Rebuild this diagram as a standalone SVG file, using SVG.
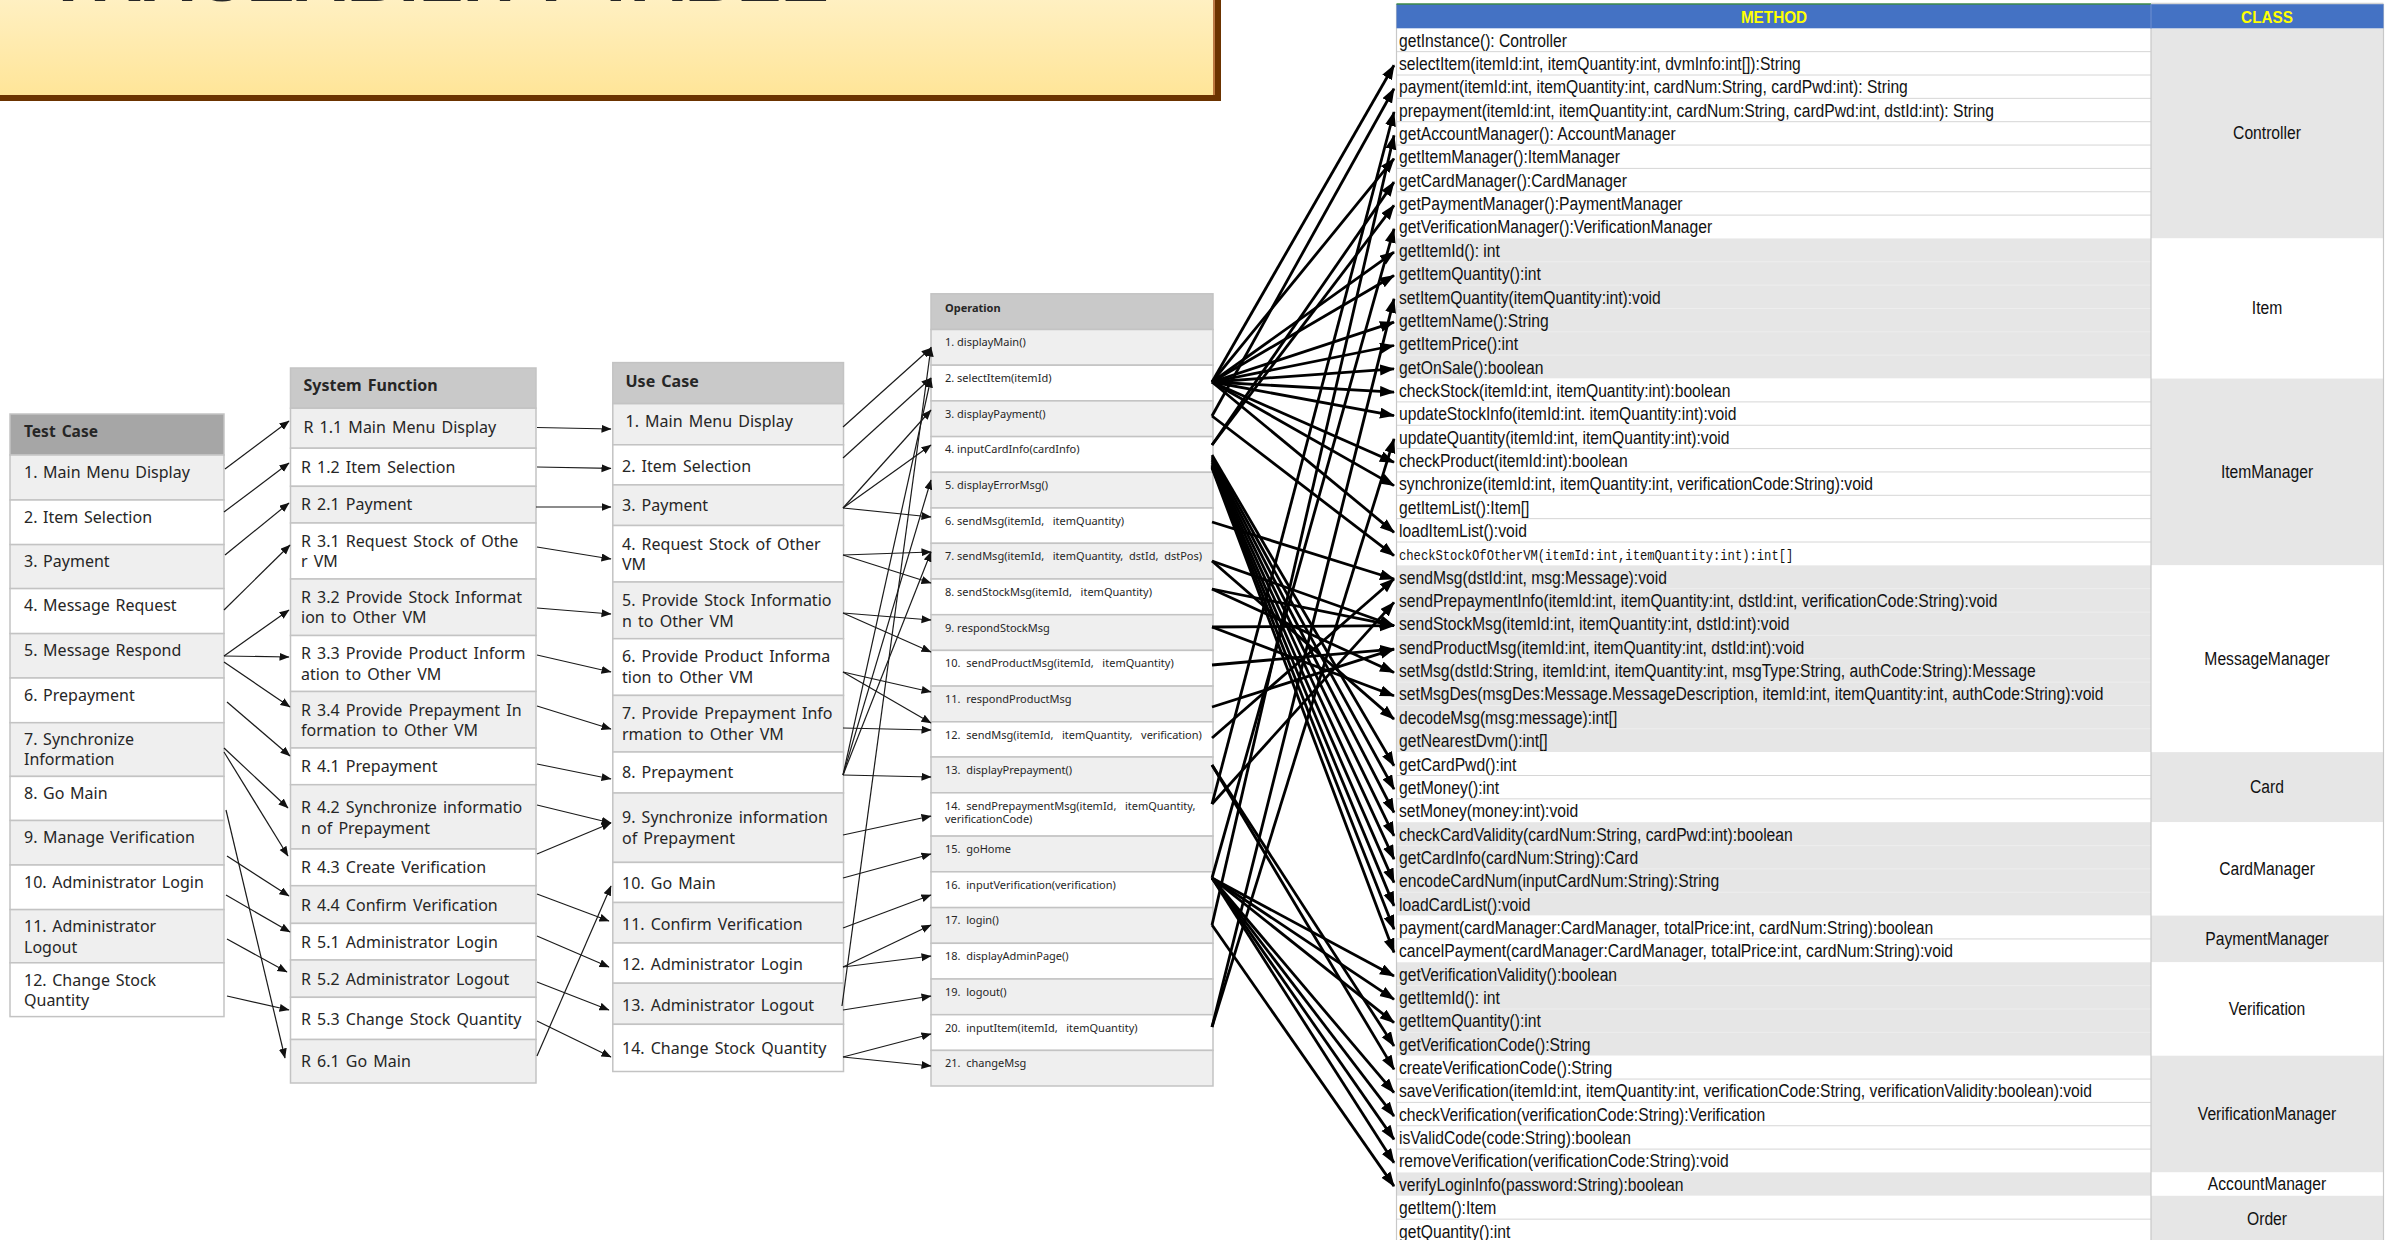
<svg xmlns="http://www.w3.org/2000/svg" width="2395" height="1240" viewBox="0 0 2395 1240">
<style>
.bd{stroke:#c3c3c3;stroke-width:1.5}
.hd1{fill:#a6a6a6}.hd{fill:#c9c9c9}.lt{fill:#efefef}.wt{fill:#ffffff}
.t15{font-family:"Noto Sans","Noto Sans CJK KR",sans-serif;font-size:16px;word-spacing:1.5px;fill:#262626}
.t16{font-family:"Noto Sans","Noto Sans CJK KR",sans-serif;font-size:16px;word-spacing:2px;fill:#262626}
.b15{font-family:"Noto Sans","Noto Sans CJK KR",sans-serif;font-size:15.5px;font-weight:bold;word-spacing:2px;fill:#262626}
.b16{font-family:"Noto Sans","Noto Sans CJK KR",sans-serif;font-size:16px;font-weight:bold;word-spacing:2px;fill:#262626}
.op{font-family:"Noto Sans","Noto Sans CJK KR",sans-serif;font-size:11px;fill:#262626;white-space:pre}
.opb{font-family:"Noto Sans","Noto Sans CJK KR",sans-serif;font-size:11px;font-weight:bold;fill:#262626}
.m{font-family:"Liberation Sans",Arial,sans-serif;font-size:18px;fill:#111}
.mono{font-family:"Liberation Mono","Courier New",monospace;font-size:14px;fill:#111}
.hy{font-family:"Liberation Sans",Arial,sans-serif;font-size:17px;font-weight:bold;fill:#ffff00}
.c1{fill:none;stroke:#1a1a1a;stroke-width:1.2;marker-end:url(#ah1)}
.c2{fill:none;stroke:#000;stroke-width:2.8;marker-end:url(#ah2)}
</style>
<defs>
<linearGradient id="tg" x1="0" y1="0" x2="0" y2="1"><stop offset="0" stop-color="#fff1c6"/><stop offset="1" stop-color="#ffe598"/></linearGradient>
<marker id="ah1" markerUnits="userSpaceOnUse" markerWidth="11" markerHeight="9" refX="9.5" refY="4" orient="auto"><path d="M0,0 L10,4 L0,8 z" fill="#111"/></marker>
<marker id="ah2" markerUnits="userSpaceOnUse" markerWidth="16" markerHeight="12" refX="14" refY="5.5" orient="auto"><path d="M0,0 L15,5.5 L0,11 z" fill="#000"/></marker>
</defs>
<rect x="0" y="0" width="2395" height="1240" fill="#ffffff"/>

<g id="title">
<rect x="-10" y="-10" width="1225" height="105" fill="url(#tg)"/>
<rect x="-10" y="95" width="1231" height="6" fill="#6b3300"/>
<rect x="1215" y="-10" width="6" height="111" fill="#6b3300"/>
<line x1="1214" y1="-10" x2="1214" y2="95" stroke="#a5521f" stroke-width="1.5"/>
<text x="46" y="1" font-family="Liberation Sans, Arial, sans-serif" font-size="72" font-weight="bold" fill="#262626" textLength="783" lengthAdjust="spacingAndGlyphs">TRACEABILITY TABLE</text>
</g>

<!-- Test Case table -->
<g id="tc-header"><rect class="hd1 bd" x="10" y="414" width="214" height="41"/><text class="b15" x="24" y="436.5">Test Case</text></g>
<g id="tc-1"><rect class="lt bd" x="10" y="455" width="214" height="45"/><text class="t15" x="24" y="478">1. Main Menu Display</text></g>
<g id="tc-2"><rect class="wt bd" x="10" y="500" width="214" height="44.6"/><text class="t15" x="24" y="522.5">2. Item Selection</text></g>
<g id="tc-3"><rect class="lt bd" x="10" y="544.6" width="214" height="44"/><text class="t15" x="24" y="567">3. Payment</text></g>
<g id="tc-4"><rect class="wt bd" x="10" y="588.6" width="214" height="45"/><text class="t15" x="24" y="611">4. Message Request</text></g>
<g id="tc-5"><rect class="lt bd" x="10" y="633.6" width="214" height="44.4"/><text class="t15" x="24" y="656">5. Message Respond</text></g>
<g id="tc-6"><rect class="wt bd" x="10" y="678" width="214" height="44.7"/><text class="t15" x="24" y="700.5">6. Prepayment</text></g>
<g id="tc-7"><rect class="lt bd" x="10" y="722.7" width="214" height="53.7"/><text class="t15" x="24" y="744.5">7. Synchronize</text><text class="t15" x="24" y="765">Information</text></g>
<g id="tc-8"><rect class="wt bd" x="10" y="776.4" width="214" height="44.1"/><text class="t15" x="24" y="799">8. Go Main</text></g>
<g id="tc-9"><rect class="lt bd" x="10" y="820.5" width="214" height="44.5"/><text class="t15" x="24" y="843">9. Manage Verification</text></g>
<g id="tc-10"><rect class="wt bd" x="10" y="865" width="214" height="44.6"/><text class="t15" x="24" y="887.5">10. Administrator Login</text></g>
<g id="tc-11"><rect class="lt bd" x="10" y="909.6" width="214" height="53.2"/><text class="t15" x="24" y="932">11. Administrator</text><text class="t15" x="24" y="952.5">Logout</text></g>
<g id="tc-12"><rect class="wt bd" x="10" y="962.8" width="214" height="53.8"/><text class="t15" x="24" y="985.5">12. Change Stock</text><text class="t15" x="24" y="1006">Quantity</text></g>

<!-- System Function table -->
<g id="sf-header"><rect class="hd bd" x="290.5" y="368" width="245.5" height="40.2"/><text class="b16" x="303.5" y="391">System Function</text></g>
<g id="sf-r11"><rect class="lt bd" x="290.5" y="408.2" width="245.5" height="40"/><text class="t16" x="303.5" y="433">R 1.1 Main Menu Display</text></g>
<g id="sf-r12"><rect class="wt bd" x="290.5" y="448.2" width="245.5" height="38.1"/><text class="t16" x="301" y="473">R 1.2 Item Selection</text></g>
<g id="sf-r21"><rect class="lt bd" x="290.5" y="486.3" width="245.5" height="36.7"/><text class="t16" x="301" y="510">R 2.1 Payment</text></g>
<g id="sf-r31"><rect class="wt bd" x="290.5" y="523" width="245.5" height="56"/><text class="t16" x="301" y="546.5">R 3.1 Request Stock of Othe</text><text class="t16" x="301" y="567">r VM</text></g>
<g id="sf-r32"><rect class="lt bd" x="290.5" y="579" width="245.5" height="56.5"/><text class="t16" x="301" y="602.5">R 3.2 Provide Stock Informat</text><text class="t16" x="301" y="623">ion to Other VM</text></g>
<g id="sf-r33"><rect class="wt bd" x="290.5" y="635.5" width="245.5" height="56"/><text class="t16" x="301" y="659">R 3.3 Provide Product Inform</text><text class="t16" x="301" y="679.5">ation to Other VM</text></g>
<g id="sf-r34"><rect class="lt bd" x="290.5" y="691.5" width="245.5" height="56.5"/><text class="t16" x="301" y="715.5">R 3.4 Provide Prepayment In</text><text class="t16" x="301" y="736">formation to Other VM</text></g>
<g id="sf-r41"><rect class="wt bd" x="290.5" y="748" width="245.5" height="36.7"/><text class="t16" x="301" y="772">R 4.1 Prepayment</text></g>
<g id="sf-r42"><rect class="lt bd" x="290.5" y="784.7" width="245.5" height="64.3"/><text class="t16" x="301" y="813">R 4.2 Synchronize informatio</text><text class="t16" x="301" y="833.5">n of Prepayment</text></g>
<g id="sf-r43"><rect class="wt bd" x="290.5" y="849" width="245.5" height="36.7"/><text class="t16" x="301" y="873">R 4.3 Create Verification</text></g>
<g id="sf-r44"><rect class="lt bd" x="290.5" y="885.7" width="245.5" height="37.7"/><text class="t16" x="301" y="910.5">R 4.4 Confirm Verification</text></g>
<g id="sf-r51"><rect class="wt bd" x="290.5" y="923.4" width="245.5" height="36.6"/><text class="t16" x="301" y="947.7">R 5.1 Administrator Login</text></g>
<g id="sf-r52"><rect class="lt bd" x="290.5" y="960" width="245.5" height="37.3"/><text class="t16" x="301" y="985.3">R 5.2 Administrator Logout</text></g>
<g id="sf-r53"><rect class="wt bd" x="290.5" y="997.3" width="245.5" height="42.2"/><text class="t16" x="301" y="1025.3">R 5.3 Change Stock Quantity</text></g>
<g id="sf-r61"><rect class="lt bd" x="290.5" y="1039.5" width="245.5" height="43.5"/><text class="t16" x="301" y="1067">R 6.1 Go Main</text></g>

<!-- Use Case table -->
<g id="uc-header"><rect class="hd bd" x="612.8" y="362.6" width="230.7" height="41.1"/><text class="b16" x="625.5" y="387">Use Case</text></g>
<g id="uc-1"><rect class="lt bd" x="612.8" y="403.7" width="230.7" height="41.1"/><text class="t16" x="625.5" y="427">1. Main Menu Display</text></g>
<g id="uc-2"><rect class="wt bd" x="612.8" y="444.8" width="230.7" height="40.1"/><text class="t16" x="622" y="471.5">2. Item Selection</text></g>
<g id="uc-3"><rect class="lt bd" x="612.8" y="484.9" width="230.7" height="40.6"/><text class="t16" x="622" y="511">3. Payment</text></g>
<g id="uc-4"><rect class="wt bd" x="612.8" y="525.5" width="230.7" height="56.5"/><text class="t16" x="622" y="549.5">4. Request Stock of Other</text><text class="t16" x="622" y="570">VM</text></g>
<g id="uc-5"><rect class="lt bd" x="612.8" y="582" width="230.7" height="56.7"/><text class="t16" x="622" y="606">5. Provide Stock Informatio</text><text class="t16" x="622" y="626.8">n to Other VM</text></g>
<g id="uc-6"><rect class="wt bd" x="612.8" y="638.7" width="230.7" height="56.7"/><text class="t16" x="622" y="662">6. Provide Product Informa</text><text class="t16" x="622" y="683">tion to Other VM</text></g>
<g id="uc-7"><rect class="lt bd" x="612.8" y="695.4" width="230.7" height="56.6"/><text class="t16" x="622" y="718.8">7. Provide Prepayment Info</text><text class="t16" x="622" y="739.5">rmation to Other VM</text></g>
<g id="uc-8"><rect class="wt bd" x="612.8" y="752" width="230.7" height="41"/><text class="t16" x="622" y="778.3">8. Prepayment</text></g>
<g id="uc-9"><rect class="lt bd" x="612.8" y="793" width="230.7" height="69.4"/><text class="t16" x="622" y="823">9. Synchronize information</text><text class="t16" x="622" y="844">of Prepayment</text></g>
<g id="uc-10"><rect class="wt bd" x="612.8" y="862.4" width="230.7" height="40.1"/><text class="t16" x="622" y="888.7">10. Go Main</text></g>
<g id="uc-11"><rect class="lt bd" x="612.8" y="902.5" width="230.7" height="40.5"/><text class="t16" x="622" y="929.7">11. Confirm Verification</text></g>
<g id="uc-12"><rect class="wt bd" x="612.8" y="943" width="230.7" height="40.2"/><text class="t16" x="622" y="969.8">12. Administrator Login</text></g>
<g id="uc-13"><rect class="lt bd" x="612.8" y="983.2" width="230.7" height="41.1"/><text class="t16" x="622" y="1010.9">13. Administrator Logout</text></g>
<g id="uc-14"><rect class="wt bd" x="612.8" y="1024.3" width="230.7" height="47.2"/><text class="t16" x="622" y="1054.3">14. Change Stock Quantity</text></g>

<!-- Operation table -->
<g id="op-header"><rect class="hd bd" x="931" y="293.8" width="282" height="35.7"/><text class="opb" x="945" y="311.5">Operation</text></g>
<g id="op-1"><rect class="lt bd" x="931" y="329.5" width="282" height="35.7"/><text class="op" x="945" y="346.3">1. displayMain()</text></g>
<g id="op-2"><rect class="wt bd" x="931" y="365.2" width="282" height="35.7"/><text class="op" x="945" y="382">2. selectItem(itemId)</text></g>
<g id="op-3"><rect class="lt bd" x="931" y="400.9" width="282" height="35.7"/><text class="op" x="945" y="417.7">3. displayPayment()</text></g>
<g id="op-4"><rect class="wt bd" x="931" y="436.6" width="282" height="35.7"/><text class="op" x="945" y="453.4">4. inputCardInfo(cardInfo)</text></g>
<g id="op-5"><rect class="lt bd" x="931" y="472.3" width="282" height="35.7"/><text class="op" x="945" y="489.1">5. displayErrorMsg()</text></g>
<g id="op-6"><rect class="wt bd" x="931" y="508" width="282" height="35.3"/><text class="op" x="945" y="524.8" xml:space="preserve">6. sendMsg(itemId,   itemQuantity)</text></g>
<g id="op-7"><rect class="lt bd" x="931" y="543.3" width="282" height="35.7"/><text class="op" x="945" y="560.1" xml:space="preserve">7. sendMsg(itemId,   itemQuantity,  dstId,  dstPos)</text></g>
<g id="op-8"><rect class="wt bd" x="931" y="579" width="282" height="35.7"/><text class="op" x="945" y="595.8" xml:space="preserve">8. sendStockMsg(itemId,   itemQuantity)</text></g>
<g id="op-9"><rect class="lt bd" x="931" y="614.7" width="282" height="35.7"/><text class="op" x="945" y="631.5">9. respondStockMsg</text></g>
<g id="op-10"><rect class="wt bd" x="931" y="650.4" width="282" height="35.7"/><text class="op" x="945" y="667.2" xml:space="preserve">10.  sendProductMsg(itemId,   itemQuantity)</text></g>
<g id="op-11"><rect class="lt bd" x="931" y="686.1" width="282" height="35.7"/><text class="op" x="945" y="702.9" xml:space="preserve">11.  respondProductMsg</text></g>
<g id="op-12"><rect class="wt bd" x="931" y="721.8" width="282" height="35.2"/><text class="op" x="945" y="738.6" xml:space="preserve">12.  sendMsg(itemId,   itemQuantity,   verification)</text></g>
<g id="op-13"><rect class="lt bd" x="931" y="757" width="282" height="35.8"/><text class="op" x="945" y="773.8" xml:space="preserve">13.  displayPrepayment()</text></g>
<g id="op-14"><rect class="wt bd" x="931" y="792.8" width="282" height="43.3"/><text class="op" x="945" y="809.6" xml:space="preserve">14.  sendPrepaymentMsg(itemId,   itemQuantity,</text><text class="op" x="945" y="823.1">verificationCode)</text></g>
<g id="op-15"><rect class="lt bd" x="931" y="836.1" width="282" height="35.7"/><text class="op" x="945" y="852.9" xml:space="preserve">15.  goHome</text></g>
<g id="op-16"><rect class="wt bd" x="931" y="871.8" width="282" height="35.8"/><text class="op" x="945" y="888.6" xml:space="preserve">16.  inputVerification(verification)</text></g>
<g id="op-17"><rect class="lt bd" x="931" y="907.6" width="282" height="35.7"/><text class="op" x="945" y="924.4" xml:space="preserve">17.  login()</text></g>
<g id="op-18"><rect class="wt bd" x="931" y="943.3" width="282" height="35.7"/><text class="op" x="945" y="960.1" xml:space="preserve">18.  displayAdminPage()</text></g>
<g id="op-19"><rect class="lt bd" x="931" y="979" width="282" height="35.7"/><text class="op" x="945" y="995.8" xml:space="preserve">19.  logout()</text></g>
<g id="op-20"><rect class="wt bd" x="931" y="1014.7" width="282" height="35.7"/><text class="op" x="945" y="1031.5" xml:space="preserve">20.  inputItem(itemId,   itemQuantity)</text></g>
<g id="op-21"><rect class="lt bd" x="931" y="1050.4" width="282" height="35.6"/><text class="op" x="945" y="1067.2" xml:space="preserve">21.  changeMsg</text></g>

<!-- Method / Class table -->
<g id="method-table">
<rect x="1396.5" y="28.3" width="754.5" height="210.15" fill="#ffffff"/>
<rect x="1396.5" y="238.45" width="754.5" height="140.1" fill="#e6e6e6"/>
<rect x="1396.5" y="378.55" width="754.5" height="186.8" fill="#ffffff"/>
<rect x="1396.5" y="565.35" width="754.5" height="186.8" fill="#e6e6e6"/>
<rect x="1396.5" y="752.15" width="754.5" height="70.05" fill="#ffffff"/>
<rect x="1396.5" y="822.2" width="754.5" height="93.4" fill="#e6e6e6"/>
<rect x="1396.5" y="915.6" width="754.5" height="46.7" fill="#ffffff"/>
<rect x="1396.5" y="962.3" width="754.5" height="93.4" fill="#e6e6e6"/>
<rect x="1396.5" y="1055.7" width="754.5" height="116.75" fill="#ffffff"/>
<rect x="1396.5" y="1172.45" width="754.5" height="23.35" fill="#e6e6e6"/>
<rect x="1396.5" y="1195.8" width="754.5" height="46.7" fill="#ffffff"/>
<rect x="2151" y="28.3" width="232.5" height="210.15" fill="#e6e6e6"/>
<rect x="2151" y="238.45" width="232.5" height="140.1" fill="#ffffff"/>
<rect x="2151" y="378.55" width="232.5" height="186.8" fill="#e6e6e6"/>
<rect x="2151" y="565.35" width="232.5" height="186.8" fill="#ffffff"/>
<rect x="2151" y="752.15" width="232.5" height="70.05" fill="#e6e6e6"/>
<rect x="2151" y="822.2" width="232.5" height="93.4" fill="#ffffff"/>
<rect x="2151" y="915.6" width="232.5" height="46.7" fill="#e6e6e6"/>
<rect x="2151" y="962.3" width="232.5" height="93.4" fill="#ffffff"/>
<rect x="2151" y="1055.7" width="232.5" height="116.75" fill="#e6e6e6"/>
<rect x="2151" y="1172.45" width="232.5" height="23.35" fill="#ffffff"/>
<rect x="2151" y="1195.8" width="232.5" height="46.7" fill="#e6e6e6"/>
<path d="M1397 51.65H2151M1397 75H2151M1397 98.35H2151M1397 121.7H2151M1397 145.05H2151M1397 168.4H2151M1397 191.75H2151M1397 215.1H2151M1397 401.9H2151M1397 425.25H2151M1397 448.6H2151M1397 471.95H2151M1397 495.3H2151M1397 518.65H2151M1397 542H2151M1397 775.5H2151M1397 798.85H2151M1397 938.95H2151M1397 1079.05H2151M1397 1102.4H2151M1397 1125.75H2151M1397 1149.1H2151M1397 1219.15H2151" stroke="#d6d6d6" stroke-width="1" fill="none"/>
<path d="M1397 261.8H2151M1397 285.15H2151M1397 308.5H2151M1397 331.85H2151M1397 355.2H2151M1397 588.7H2151M1397 612.05H2151M1397 635.4H2151M1397 658.75H2151M1397 682.1H2151M1397 705.45H2151M1397 728.8H2151M1397 845.55H2151M1397 868.9H2151M1397 892.25H2151M1397 985.65H2151M1397 1009H2151M1397 1032.35H2151" stroke="#eeeeee" stroke-width="1" fill="none"/>
<path d="M1396.5 4V1240M2151 28V1240M2383.5 4V1240" stroke="#c8c8c8" stroke-width="1.2" fill="none"/>
</g>
<g id="method-header">
<rect x="1396.5" y="4" width="754.5" height="24.3" fill="#4472c4"/>
<rect x="2151" y="4" width="232.5" height="24.3" fill="#4472c4"/>
<line x1="1396.5" y1="4" x2="2151" y2="4" stroke="#3c8a48" stroke-width="1.5"/>
<line x1="2151" y1="3.5" x2="2383.5" y2="3.5" stroke="#d4d4d4" stroke-width="1.5"/>
<line x1="2151" y1="4" x2="2151" y2="28.3" stroke="#6f8fd0" stroke-width="1"/>
<text class="hy" text-anchor="middle" transform="translate(1774,23.3) scale(0.9,1)" x="0" y="0">METHOD</text>
<text class="hy" text-anchor="middle" transform="translate(2267,23.3) scale(0.9,1)" x="0" y="0">CLASS</text>
</g>
<g id="methods" class="m" transform="translate(1399,0) scale(0.87,1)">
<text x="0" y="46.7">getInstance(): Controller</text>
<text x="0" y="70.05">selectItem(itemId:int, itemQuantity:int, dvmInfo:int[]):String</text>
<text x="0" y="93.4">payment(itemId:int, itemQuantity:int, cardNum:String, cardPwd:int): String</text>
<text x="0" y="116.75">prepayment(itemId:int, itemQuantity:int, cardNum:String, cardPwd:int, dstId:int): String</text>
<text x="0" y="140.1">getAccountManager(): AccountManager</text>
<text x="0" y="163.45">getItemManager():ItemManager</text>
<text x="0" y="186.8">getCardManager():CardManager</text>
<text x="0" y="210.15">getPaymentManager():PaymentManager</text>
<text x="0" y="233.5">getVerificationManager():VerificationManager</text>
<text x="0" y="256.85">getItemId(): int</text>
<text x="0" y="280.2">getItemQuantity():int</text>
<text x="0" y="303.55">setItemQuantity(itemQuantity:int):void</text>
<text x="0" y="326.9">getItemName():String</text>
<text x="0" y="350.25">getItemPrice():int</text>
<text x="0" y="373.6">getOnSale():boolean</text>
<text x="0" y="396.95">checkStock(itemId:int, itemQuantity:int):boolean</text>
<text x="0" y="420.3">updateStockInfo(itemId:int. itemQuantity:int):void</text>
<text x="0" y="443.65">updateQuantity(itemId:int, itemQuantity:int):void</text>
<text x="0" y="467">checkProduct(itemId:int):boolean</text>
<text x="0" y="490.35">synchronize(itemId:int, itemQuantity:int, verificationCode:String):void</text>
<text x="0" y="513.7">getItemList():Item[]</text>
<text x="0" y="537.05">loadItemList():void</text>
<text class="mono" x="0" y="560.4">checkStockOfOtherVM(itemId:int,itemQuantity:int):int[]</text>
<text x="0" y="583.75">sendMsg(dstId:int, msg:Message):void</text>
<text x="0" y="607.1">sendPrepaymentInfo(itemId:int, itemQuantity:int, dstId:int, verificationCode:String):void</text>
<text x="0" y="630.45">sendStockMsg(itemId:int, itemQuantity:int, dstId:int):void</text>
<text x="0" y="653.8">sendProductMsg(itemId:int, itemQuantity:int, dstId:int):void</text>
<text x="0" y="677.15">setMsg(dstId:String, itemId:int, itemQuantity:int, msgType:String, authCode:String):Message</text>
<text x="0" y="700.5">setMsgDes(msgDes:Message.MessageDescription, itemId:int, itemQuantity:int, authCode:String):void</text>
<text x="0" y="723.85">decodeMsg(msg:message):int[]</text>
<text x="0" y="747.2">getNearestDvm():int[]</text>
<text x="0" y="770.55">getCardPwd():int</text>
<text x="0" y="793.9">getMoney():int</text>
<text x="0" y="817.25">setMoney(money:int):void</text>
<text x="0" y="840.6">checkCardValidity(cardNum:String, cardPwd:int):boolean</text>
<text x="0" y="863.95">getCardInfo(cardNum:String):Card</text>
<text x="0" y="887.3">encodeCardNum(inputCardNum:String):String</text>
<text x="0" y="910.65">loadCardList():void</text>
<text x="0" y="934">payment(cardManager:CardManager, totalPrice:int, cardNum:String):boolean</text>
<text x="0" y="957.35">cancelPayment(cardManager:CardManager, totalPrice:int, cardNum:String):void</text>
<text x="0" y="980.7">getVerificationValidity():boolean</text>
<text x="0" y="1004.05">getItemId(): int</text>
<text x="0" y="1027.4">getItemQuantity():int</text>
<text x="0" y="1050.75">getVerificationCode():String</text>
<text x="0" y="1074.1">createVerificationCode():String</text>
<text x="0" y="1097.45">saveVerification(itemId:int, itemQuantity:int, verificationCode:String, verificationValidity:boolean):void</text>
<text x="0" y="1120.8">checkVerification(verificationCode:String):Verification</text>
<text x="0" y="1144.15">isValidCode(code:String):boolean</text>
<text x="0" y="1167.5">removeVerification(verificationCode:String):void</text>
<text x="0" y="1190.85">verifyLoginInfo(password:String):boolean</text>
<text x="0" y="1214.2">getItem():Item</text>
<text x="0" y="1237.55">getQuantity():int</text>
</g>
<g id="classes" class="m" text-anchor="middle" transform="translate(2267,0) scale(0.87,1)">
<text x="0" y="139.5">Controller</text>
<text x="0" y="314.5">Item</text>
<text x="0" y="478">ItemManager</text>
<text x="0" y="664.8">MessageManager</text>
<text x="0" y="793.2">Card</text>
<text x="0" y="875">CardManager</text>
<text x="0" y="945">PaymentManager</text>
<text x="0" y="1015">Verification</text>
<text x="0" y="1120">VerificationManager</text>
<text x="0" y="1190">AccountManager</text>
<text x="0" y="1225">Order</text>
</g>

<g id="connectors">
<g id="tc-sf">
<path class="c1" d="M225,469 L289,421"/>
<path class="c1" d="M224,512 L289,463"/>
<path class="c1" d="M225,555 L289,503"/>
<path class="c1" d="M224,610 L290,545"/>
<path class="c1" d="M224,656 L289,610"/>
<path class="c1" d="M224,656 L289,657"/>
<path class="c1" d="M224,662 L290,707"/>
<path class="c1" d="M227,702 L290,756"/>
<path class="c1" d="M224,748 L288,808"/>
<path class="c1" d="M224,752 L288,856"/>
<path class="c1" d="M226,810 L285,1058"/>
<path class="c1" d="M227,856 L289,896"/>
<path class="c1" d="M226,895 L290,932"/>
<path class="c1" d="M227,939 L287,972"/>
<path class="c1" d="M227,996 L289,1010"/>
</g>
<g id="sf-uc">
<path class="c1" d="M537,427.5 L611,429"/>
<path class="c1" d="M537,467 L611,468.4"/>
<path class="c1" d="M536,507 L611,507"/>
<path class="c1" d="M537,547 L611,559"/>
<path class="c1" d="M537,608 L611,614"/>
<path class="c1" d="M537,655 L611,672"/>
<path class="c1" d="M537,706 L611,729"/>
<path class="c1" d="M537,764 L611,779"/>
<path class="c1" d="M537,805 L611,823"/>
<path class="c1" d="M537,854 L611,823"/>
<path class="c1" d="M537,894 L609,921"/>
<path class="c1" d="M537,936 L609,967"/>
<path class="c1" d="M537,982 L609,1010"/>
<path class="c1" d="M537,1021 L611,1057"/>
<path class="c1" d="M537,1056 L611,886"/>
</g>
<g id="uc-op">
<path class="c1" d="M843,427 L931,348"/>
<path class="c1" d="M843,458 L931,378"/>
<path class="c1" d="M843,508 L931,410"/>
<path class="c1" d="M843,508 L931,445"/>
<path class="c1" d="M843,508 L931,517"/>
<path class="c1" d="M843,555 L931,552"/>
<path class="c1" d="M843,555 L931,583"/>
<path class="c1" d="M843,613 L931,620"/>
<path class="c1" d="M843,613 L931,652"/>
<path class="c1" d="M843,672 L931,692"/>
<path class="c1" d="M843,672 L931,723"/>
<path class="c1" d="M843,728 L931,730"/>
<path class="c1" d="M843,775 L931,378"/>
<path class="c1" d="M843,775 L931,480"/>
<path class="c1" d="M843,775 L931,552"/>
<path class="c1" d="M843,775 L931,777"/>
<path class="c1" d="M843,835 L931,816"/>
<path class="c1" d="M843,878 L931,854"/>
<path class="c1" d="M843,928 L931,895"/>
<path class="c1" d="M843,967 L931,925"/>
<path class="c1" d="M843,967 L931,956"/>
<path class="c1" d="M842,1006 L931,347"/>
<path class="c1" d="M843,1010 L931,996"/>
<path class="c1" d="M843,1057 L931,1034"/>
<path class="c1" d="M843,1057 L931,1066"/>
</g>
<g id="op-method">
<path class="c2" d="M1212,382 L1394,65.3"/>
<path class="c2" d="M1212,382 L1394,158.7"/>
<path class="c2" d="M1212,382 L1394,252.1"/>
<path class="c2" d="M1212,382 L1394,275.5"/>
<path class="c2" d="M1212,382 L1394,322.2"/>
<path class="c2" d="M1212,382 L1394,345.5"/>
<path class="c2" d="M1212,382 L1394,368.9"/>
<path class="c2" d="M1212,382 L1394,392.2"/>
<path class="c2" d="M1212,382 L1394,415.6"/>
<path class="c2" d="M1212,382 L1394,462.3"/>
<path class="c2" d="M1212,382 L1394,485.6"/>
<path class="c2" d="M1212,382 L1394,532.3"/>
<path class="c2" d="M1212,416 L1394,88.7"/>
<path class="c2" d="M1212,416 L1394,555.7"/>
<path class="c2" d="M1212,445 L1394,182.1"/>
<path class="c2" d="M1212,445 L1394,205.4"/>
<path class="c2" d="M1212,455 L1394,765.8"/>
<path class="c2" d="M1212,457 L1394,789.2"/>
<path class="c2" d="M1212,459 L1394,812.5"/>
<path class="c2" d="M1212,461 L1394,835.9"/>
<path class="c2" d="M1212,463 L1394,859.2"/>
<path class="c2" d="M1212,465 L1394,882.6"/>
<path class="c2" d="M1212,466 L1394,905.9"/>
<path class="c2" d="M1212,467 L1394,929.3"/>
<path class="c2" d="M1212,468 L1394,952.6"/>
<path class="c2" d="M1212,522 L1394,579"/>
<path class="c2" d="M1212,561 L1394,625.7"/>
<path class="c2" d="M1212,561 L1394,719.1"/>
<path class="c2" d="M1212,589 L1394,625.7"/>
<path class="c2" d="M1212,589 L1394,672.4"/>
<path class="c2" d="M1212,627 L1394,625.7"/>
<path class="c2" d="M1212,627 L1394,695.8"/>
<path class="c2" d="M1212,665 L1394,649.1"/>
<path class="c2" d="M1212,707 L1394,649.1"/>
<path class="c2" d="M1212,738 L1394,579"/>
<path class="c2" d="M1212,765 L1394,1046"/>
<path class="c2" d="M1212,765 L1394,1069.4"/>
<path class="c2" d="M1212,804 L1394,112"/>
<path class="c2" d="M1212,804 L1394,602.4"/>
<path class="c2" d="M1212,878 L1394,228.8"/>
<path class="c2" d="M1212,878 L1394,976"/>
<path class="c2" d="M1212,878 L1394,999.3"/>
<path class="c2" d="M1212,878 L1394,1022.7"/>
<path class="c2" d="M1212,878 L1394,1092.7"/>
<path class="c2" d="M1212,878 L1394,1116.1"/>
<path class="c2" d="M1212,878 L1394,1139.4"/>
<path class="c2" d="M1212,878 L1394,1162.8"/>
<path class="c2" d="M1212,925 L1394,135.4"/>
<path class="c2" d="M1212,925 L1394,1186.1"/>
<path class="c2" d="M1212,1027 L1394,298.8"/>
<path class="c2" d="M1212,1027 L1394,438.9"/>
</g>
</g>
</svg>
